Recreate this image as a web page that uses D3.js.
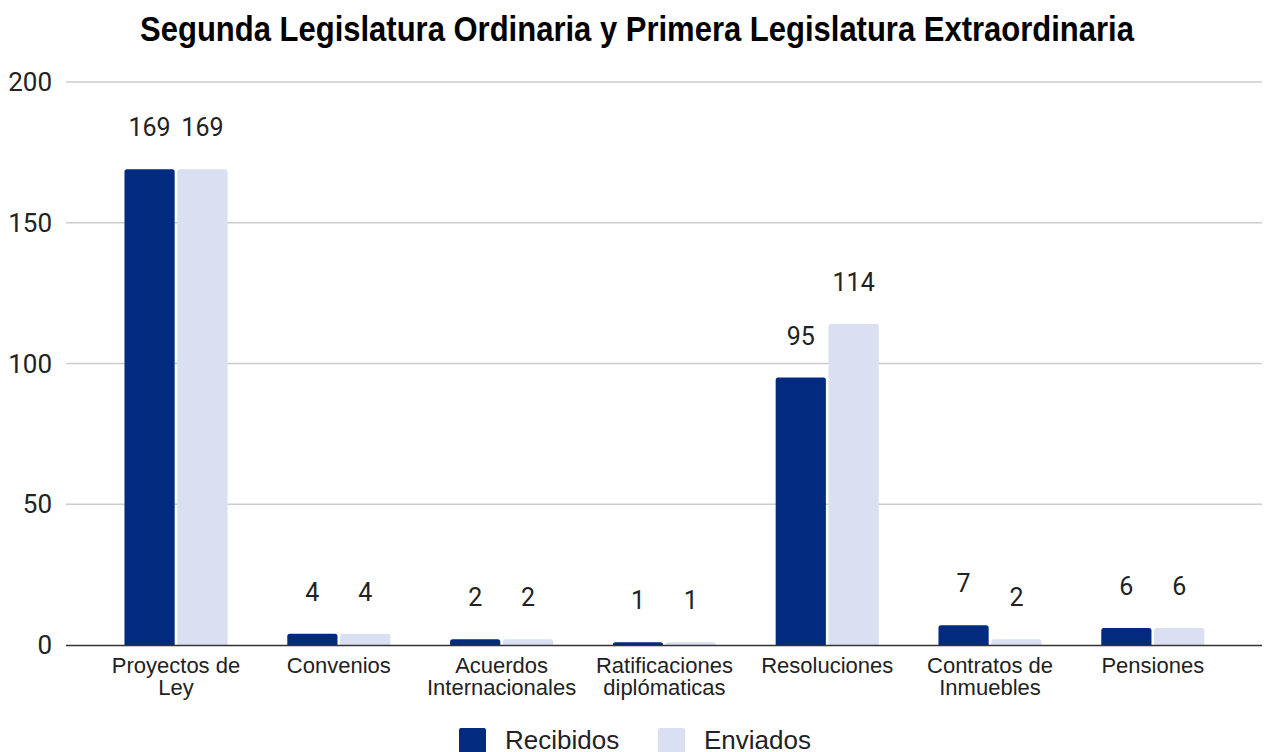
<!DOCTYPE html>
<html><head><meta charset="utf-8">
<script src="https://cdn.jsdelivr.net/npm/d3@7"></script>
<style>body{margin:0;background:#fff;}svg{display:block;}</style>
</head><body>
<svg id="c" width="1270" height="752"></svg>
<script>
const categories = [["Proyectos de","Ley"],["Convenios"],["Acuerdos","Internacionales"],["Ratificaciones","diplómaticas"],["Resoluciones"],["Contratos de","Inmuebles"],["Pensiones"]];
const seriesNames = ["Recibidos","Enviados"];
const recibidos = [169,4,2,1,95,7,6];
const enviados = [169,4,2,1,114,2,6];
const yTicks = [0,50,100,150,200];
const colors = ["#022b7f","#dae0f1"];
const title = "Segunda Legislatura Ordinaria y Primera Legislatura Extraordinaria";

const svg = d3.select("#c");
const catKeys = categories.map((c,i)=>i);
const x0 = d3.scaleBand().domain(catKeys).range([94.6, 94.6+7*162.8]).paddingInner(0.367).paddingOuter(0.1835);
const x1 = d3.scaleBand().domain(seriesNames).range([0, x0.bandwidth()]).paddingInner(0.05);
const y = d3.scaleLinear().domain([0,200]).range([645,82]);

// title
svg.append("text").attr("transform","translate(637,41) scale(1,1.12)").attr("text-anchor","middle")
  .attr("font-family","Liberation Sans, Arial, sans-serif").attr("font-weight","bold")
  .attr("font-size",31).attr("fill","#000").text(title);

// grid
const grid = svg.append("g");
grid.selectAll("line").data(yTicks.filter(d=>d>0)).join("line")
  .attr("x1",66).attr("x2",1262).attr("y1",d=>y(d)).attr("y2",d=>y(d))
  .attr("stroke","#cccccc").attr("stroke-width",1.5);
// y labels
svg.append("g").selectAll("text").data(yTicks).join("text")
  .attr("x",52).attr("y",d=>y(d)+9).attr("text-anchor","end")
  .attr("font-family","Roboto, sans-serif").attr("font-size",26).attr("fill","#222")
  .text(d=>d);

// bars
const data = catKeys.map(i=>({i, vals:[{s:seriesNames[0],v:recibidos[i]},{s:seriesNames[1],v:enviados[i]}]}));
const g = svg.append("g");
const grp = g.selectAll("g").data(data).join("g").attr("transform",d=>`translate(${x0(d.i)},0)`);
grp.selectAll("path").data(d=>d.vals).join("path")
  .attr("fill",(d,j)=>colors[j])
  .attr("d",d=>{
    const bx=x1(d.s), bw=x1.bandwidth(), top=y(d.v), bot=y(0);
    const r=Math.min(2.5,(bot-top));
    return `M${bx},${bot}V${top+r}Q${bx},${top} ${bx+r},${top}H${bx+bw-r}Q${bx+bw},${top} ${bx+bw},${top+r}V${bot}Z`;
  });
grp.selectAll("text").data(d=>d.vals).join("text")
  .attr("x",d=>x1(d.s)+x1.bandwidth()/2).attr("y",d=>y(d.v)-33)
  .attr("text-anchor","middle").attr("font-family","Roboto, sans-serif").attr("font-size",25)
  .attr("fill","#222").text(d=>d.v);

// baseline
svg.append("line").attr("x1",66).attr("x2",1262).attr("y1",y(0)+0.5).attr("y2",y(0)+0.5)
  .attr("stroke","#333").attr("stroke-width",1.5);

// category labels
const cl = svg.append("g").selectAll("text").data(data).join("text")
  .attr("text-anchor","middle").attr("font-family","Liberation Sans, Arial, sans-serif")
  .attr("font-size",22).attr("fill","#222")
  .attr("transform",d=>`translate(${x0(d.i)+x0.bandwidth()/2},0)`);
cl.selectAll("tspan").data(d=>categories[d.i]).join("tspan")
  .attr("x",0).attr("y",(d,k)=>673+k*22).text(d=>d);

// legend
const leg = svg.append("g");
const legX=[459,658];
seriesNames.forEach((s,j)=>{
  leg.append("rect").attr("x",legX[j]).attr("y",728).attr("width",27).attr("height",27).attr("rx",2).attr("fill",colors[j]);
  leg.append("text").attr("x",legX[j]+46).attr("y",749).attr("font-family","Liberation Sans, Arial, sans-serif")
    .attr("font-size",26).attr("fill","#222").text(s);
});
</script>
</body></html>
